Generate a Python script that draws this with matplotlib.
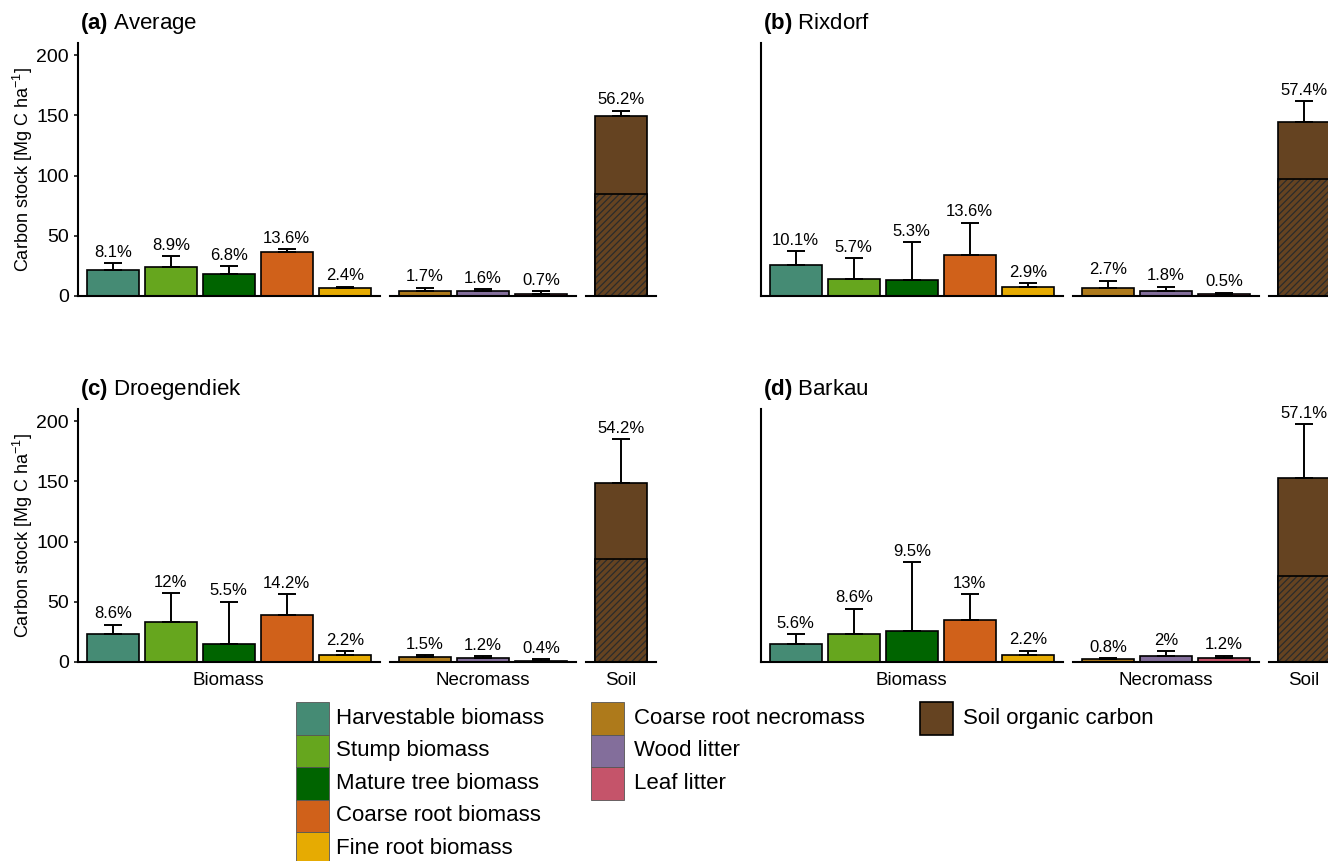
import matplotlib
matplotlib.use("Agg")
import matplotlib.pyplot as plt
from matplotlib.patches import Rectangle

plt.rcParams['font.family'] = ['Liberation Sans', 'DejaVu Sans']
plt.rcParams['mathtext.fontset'] = 'custom'
plt.rcParams['mathtext.rm'] = 'Liberation Sans'
plt.rcParams['mathtext.it'] = 'Liberation Sans:italic'
plt.rcParams['mathtext.bf'] = 'Liberation Sans:bold'
plt.rcParams['hatch.linewidth'] = 0.9

biomass_pools = ["Harvestable biomass", "Stump biomass", "Mature tree biomass",
                 "Coarse root biomass", "Fine root biomass"]
necromass_pools = ["Coarse root necromass", "Wood litter", "Leaf litter"]
soil_pools = ["Soil organic carbon"]
group_names = ["Biomass", "Necromass", "Soil"]

pool_colors = {
    "Harvestable biomass": "#458B74",
    "Stump biomass": "#66A61E",
    "Mature tree biomass": "#006400",
    "Coarse root biomass": "#D0611A",
    "Fine root biomass": "#E6AB02",
    "Coarse root necromass": "#AE7A1B",
    "Wood litter": "#836E9B",
    "Leaf litter": "#C5546A",
    "Soil organic carbon": "#654321",
}

sites = ["Average", "Rixdorf", "Droegendiek", "Barkau"]
tags = ["(a)", "(b)", "(c)", "(d)"]
# total carbon stock per site [Mg C / ha]
site_totals = [265.8, 252.0, 273.6, 267.0]

# share of each pool in the site total [%], pools in the order biomass, necromass, soil
share_average = [8.1, 8.9, 6.8, 13.6, 2.4, 1.7, 1.6, 0.7, 56.2]
share_rixdorf = [10.1, 5.7, 5.3, 13.6, 2.9, 2.7, 1.8, 0.5, 57.4]
share_droegendiek = [8.6, 12, 5.5, 14.2, 2.2, 1.5, 1.2, 0.4, 54.2]
share_barkau = [5.6, 8.6, 9.5, 13, 2.2, 0.8, 2, 1.2, 57.1]

# standard errors [Mg C / ha]
se_average = [5.6, 9.5, 6.8, 2.6, 1.3, 2.4, 1.5, 2.0, 4.4]
se_rixdorf = [11.8, 16.9, 31.4, 26.5, 3.2, 5.9, 3.2, 1.5, 17.2]
se_droegendiek = [7.2, 24.2, 35.0, 17.3, 2.9, 1.7, 1.7, 1.1, 36.5]
se_barkau = [7.9, 21.4, 57.5, 21.5, 3.5, 1.2, 3.8, 2.0, 45.0]

# hatched lower part of the soil bar [Mg C / ha]
soil_lower = [84.9, 97.1, 85.2, 71.6]

shares = [share_average, share_rixdorf, share_droegendiek, share_barkau]
ses = [se_average, se_rixdorf, se_droegendiek, se_barkau]

W, H = 1328, 861
fig = plt.figure(figsize=(W / 100, H / 100), dpi=100)

unit = 58.0      # px per category
gap = 10.5       # px between facets
ymax = 210
ypx = 1.205      # px per Mg C / ha
panel_x = [78, 761, 78, 761]
panel_y = [296, 296, 662, 662]


def draw_panel(k):
    x = panel_x[k]
    y0 = panel_y[k]
    hpx = ymax * ypx
    total = site_totals[k]
    start = 0
    for g, pools in enumerate([biomass_pools, necromass_pools, soil_pools]):
        n = len(pools)
        wpx = (n + 0.2) * unit
        ax = fig.add_axes([x / W, 1 - y0 / H, wpx / W, hpx / H])
        x += wpx + gap
        pct = shares[k][start:start + n]
        err = ses[k][start:start + n]
        start += n
        means = [p * total / 100 for p in pct]
        xs = list(range(n))
        ax.bar(xs, means, width=0.9, color=[pool_colors[p] for p in pools],
               edgecolor="black", linewidth=1.2, zorder=2)
        if pools == soil_pools:
            ax.bar(xs, [soil_lower[k]], width=0.9, color=pool_colors[pools[0]],
                   edgecolor="#2b2b2b", linewidth=0, hatch="/////", zorder=2.1)
            ax.bar(xs, [soil_lower[k]], width=0.9, fill=False,
                   edgecolor="black", linewidth=1.2, zorder=2.2)
        ax.errorbar(xs, means, yerr=[[0] * n, err], fmt="none", ecolor="black",
                    elinewidth=1.4, capsize=6.2, capthick=1.4, zorder=3)
        for xi, m, e, p in zip(xs, means, err, pct):
            ax.annotate(f"{p:g}%", (xi, m + e), xytext=(0, 2.5),
                        textcoords="offset points", ha="center", va="bottom",
                        fontsize=12, annotation_clip=False)
        ax.set_xlim(-0.6, n - 0.4)
        ax.set_ylim(0, ymax)
        ax.set_xticks([])
        for s in ["top", "right"]:
            ax.spines[s].set_visible(False)
        ax.spines["bottom"].set_linewidth(1.5)
        ax.spines["left"].set_linewidth(1.5)
        if g == 0:
            ax.set_yticks([0, 50, 100, 150, 200])
            if k % 2 == 0:
                ax.tick_params(axis="y", labelsize=14, length=3, width=1.1)
                ax.set_ylabel("Carbon stock [Mg C ha$^{-1}$]", fontsize=13)
                ax.yaxis.set_label_coords(-0.143, 0.5)
            else:
                ax.tick_params(axis="y", left=False, labelleft=False)
        else:
            ax.spines["left"].set_visible(False)
            ax.set_yticks([])
        if k >= 2:
            ax.set_xlabel(group_names[g], fontsize=13.5, labelpad=7)
    fig.text((panel_x[k] + 2) / W, 1 - (y0 - 273) / H,
             r"$\mathbf{" + tags[k] + "}$ " + sites[k],
             fontsize=16, va="center", ha="left")


for k in range(4):
    draw_panel(k)

# legend keys
key_w, key_h, key_top = 33, 32.5, 702
legend_cols = [(296, 336, biomass_pools, "#555555", 0.6),
               (591, 634, necromass_pools, "#555555", 0.6),
               (920, 963, soil_pools, "black", 1.2)]
for kx, tx, pools, ec, lw in legend_cols:
    for j, name in enumerate(pools):
        top = key_top + j * key_h
        fig.add_artist(Rectangle((kx / W, 1 - (top + key_h) / H), key_w / W, key_h / H,
                                 transform=fig.transFigure, facecolor=pool_colors[name],
                                 edgecolor=ec, linewidth=lw))
        fig.text(tx / W, 1 - (top + key_h / 2) / H, name, fontsize=16, va="center")

fig.savefig("out.png", dpi=100)
